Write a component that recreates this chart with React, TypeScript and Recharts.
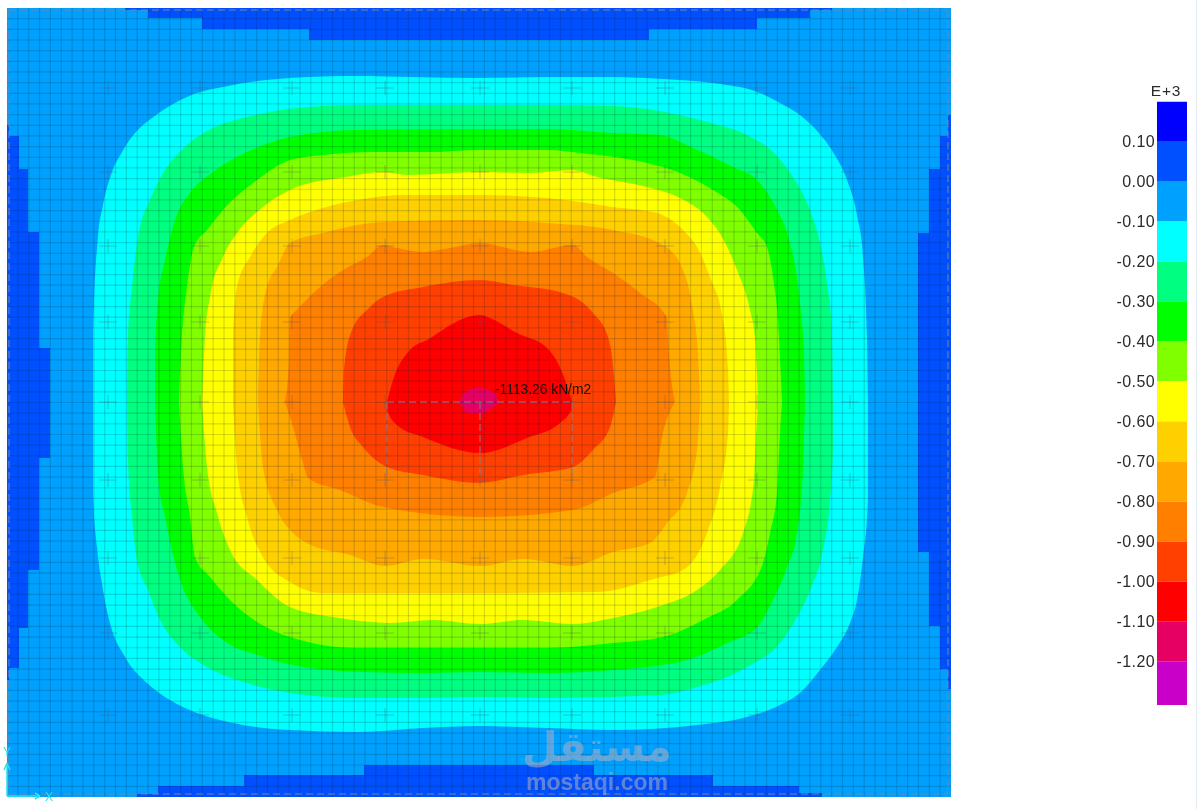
import { ComposedChart, BarChart, Area, Bar, Scatter, XAxis, YAxis, ReferenceLine, ReferenceDot } from "recharts";

type Pt = [number, number];

// contour outlines, upper and lower half of each band, split at y = 402
const MID_Y = 402;

const cyanTop: Pt[] = [[93, 402], [93, 337], [94, 303], [98, 237], [103, 205], [111, 175], [122, 152], [135, 133], [152, 118], [175, 103], [197, 93], [223, 87], [250, 82], [290, 78], [357, 76], [413, 77], [480, 78], [547, 77], [613, 77], [663, 79], [713, 83], [760, 93], [780, 103], [800, 115], [818, 132], [833, 152], [847, 180], [857, 215], [863, 257], [867, 337], [868, 402]];
const cyanBottom: Pt[] = [[93, 402], [93, 493], [97, 547], [103, 590], [110, 623], [125, 657], [147, 683], [170, 700], [197, 713], [233, 723], [290, 730], [357, 732], [423, 728], [480, 726], [547, 728], [613, 730], [697, 725], [747, 717], [780, 705], [800, 693], [820, 670], [837, 647], [850, 623], [857, 600], [863, 557], [868, 500], [868, 402]];

const springTop: Pt[] = [[127, 402], [128, 337], [132, 287], [138, 237], [150, 200], [165, 170], [187, 145], [213, 128], [247, 117], [297, 108], [357, 105], [480, 105], [547, 105], [613, 106], [653, 110], [707, 122], [747, 135], [773, 152], [793, 177], [810, 210], [820, 243], [827, 283], [832, 330], [833, 402]];
const springBottom: Pt[] = [[127, 402], [128, 460], [132, 517], [137, 560], [148, 590], [160, 620], [180, 647], [207, 667], [247, 683], [290, 693], [357, 698], [423, 698], [480, 697], [550, 698], [660, 695], [697, 687], [747, 667], [780, 643], [797, 617], [813, 583], [823, 550], [830, 500], [833, 450], [833, 402]];

const greenTop: Pt[] = [[155, 402], [155, 353], [158, 300], [165, 260], [175, 220], [190, 193], [213, 172], [247, 152], [290, 137], [357, 130], [480, 129], [547, 129], [613, 133], [660, 135], [693, 148], [733, 167], [757, 180], [777, 210], [790, 243], [800, 303], [804, 353], [805, 402]];
const greenBottom: Pt[] = [[155, 402], [158, 477], [165, 517], [178, 573], [200, 617], [223, 640], [257, 655], [303, 667], [363, 672], [423, 673], [480, 672], [547, 673], [613, 670], [687, 660], [727, 643], [757, 627], [773, 600], [787, 567], [797, 533], [803, 467], [805, 402]];

const limeTop: Pt[] = [[179, 402], [181, 353], [187, 287], [194, 247], [207, 230], [223, 210], [257, 180], [290, 160], [323, 155], [373, 152], [430, 152], [480, 150], [547, 150], [580, 153], [647, 163], [680, 173], [713, 190], [740, 210], [757, 233], [767, 247], [773, 277], [778, 320], [782, 402]];
const limeBottom: Pt[] = [[179, 402], [183, 467], [190, 517], [195, 557], [210, 577], [230, 600], [257, 622], [290, 637], [357, 648], [423, 648], [480, 648], [547, 648], [613, 643], [663, 637], [707, 618], [737, 600], [763, 563], [770, 533], [777, 493], [780, 433], [782, 402]];

const yellowTop: Pt[] = [[202, 402], [205, 337], [210, 297], [223, 257], [237, 233], [263, 207], [297, 187], [340, 178], [385, 172], [407, 175], [480, 172], [530, 173], [572, 170], [597, 177], [647, 187], [680, 198], [707, 217], [722, 237], [737, 270], [750, 310], [755, 337], [758, 402]];
const yellowBottom: Pt[] = [[202, 402], [207, 467], [217, 513], [230, 550], [257, 580], [290, 607], [340, 618], [390, 623], [433, 620], [480, 624], [523, 620], [573, 624], [613, 618], [657, 607], [697, 590], [720, 570], [743, 533], [754, 480], [755, 457], [758, 402]];

const goldTop: Pt[] = [[233, 402], [233, 337], [237, 287], [250, 257], [267, 233], [290, 220], [323, 208], [357, 200], [407, 195], [480, 195], [547, 198], [613, 207], [657, 213], [683, 230], [697, 247], [710, 277], [723, 320], [728, 370], [729, 402]];
const goldBottom: Pt[] = [[233, 402], [237, 467], [247, 517], [263, 557], [290, 582], [323, 593], [480, 593], [597, 592], [657, 578], [683, 570], [707, 533], [720, 487], [728, 433], [729, 402]];

const amberTop: Pt[] = [[258, 402], [260, 337], [267, 287], [277, 267], [290, 243], [323, 233], [383, 222], [480, 220], [547, 223], [613, 230], [663, 245], [683, 270], [693, 310], [698, 353], [700, 402]];
const amberBottom: Pt[] = [[258, 402], [263, 467], [277, 510], [293, 533], [307, 543], [350, 555], [385, 566], [423, 559], [480, 566], [523, 559], [573, 566], [613, 552], [650, 543], [667, 523], [687, 493], [697, 450], [700, 402]];

const orangeTop: Pt[] = [[285, 402], [289, 360], [290, 318], [297, 310], [320, 287], [343, 270], [367, 257], [383, 245], [397, 248], [423, 252], [450, 248], [480, 243], [530, 252], [573, 245], [587, 257], [613, 273], [640, 293], [667, 318], [668, 337], [675, 402]];
const orangeBottom: Pt[] = [[285, 402], [293, 427], [303, 463], [308, 478], [340, 490], [383, 507], [480, 517], [573, 510], [613, 493], [655, 477], [662, 437], [675, 402]];

const redOrangeTop: Pt[] = [[343, 402], [344, 370], [352, 330], [367, 310], [383, 297], [423, 287], [480, 280], [513, 285], [563, 293], [593, 313], [608, 337], [615, 387], [616, 402]];
const redOrangeBottom: Pt[] = [[343, 402], [350, 427], [363, 447], [387, 467], [423, 475], [480, 483], [523, 475], [573, 467], [593, 450], [610, 427], [616, 402]];

const redTop: Pt[] = [[387, 402], [393, 380], [410, 350], [427, 340], [468, 317], [480, 315], [490, 318], [517, 333], [547, 348], [562, 372], [572, 402]];
const redBottom: Pt[] = [[387, 402], [388, 412], [397, 425], [423, 437], [480, 453], [527, 438], [560, 423], [572, 408], [572, 402]];

const crimsonTop: Pt[] = [[459, 402], [468, 390], [478, 388], [493, 392], [499, 402]];
const crimsonBottom: Pt[] = [[459, 402], [468, 413], [480, 414], [492, 408], [499, 402]];

// dark blue uplift strips along the plate edges: x, from, to
const stripTop = [[125, 8, 10], [148, 8, 10], [148, 8, 18], [202, 8, 18], [202, 8, 29], [309, 8, 29], [309, 8, 40], [649, 8, 40], [649, 8, 29], [757, 8, 29], [757, 8, 18], [810, 8, 18], [810, 8, 10], [832, 8, 10]];
const stripBottom = [[137, 794, 797], [158, 794, 797], [158, 786, 797], [244, 786, 797], [244, 775, 797], [364, 775, 797], [364, 765, 797], [594, 765, 797], [594, 775, 797], [713, 775, 797], [713, 786, 797], [799, 786, 797], [799, 793, 797], [822, 793, 797]];
const stripLeft = [[7, 125, 680], [9, 125, 680], [9, 136, 668], [19, 136, 668], [19, 169, 628], [28, 169, 628], [28, 232, 570], [39, 232, 570], [39, 348, 458], [50, 348, 458]];
const stripRight = [[918, 233, 552], [929, 233, 552], [929, 169, 626], [940, 169, 626], [940, 136, 669], [948, 136, 669], [948, 115, 689], [951, 115, 689]];

const BANDS: { color: string; top: Pt[]; bottom: Pt[] }[] = [
  { color: "#00FFFF", top: cyanTop, bottom: cyanBottom },
  { color: "#00FF80", top: springTop, bottom: springBottom },
  { color: "#00FF00", top: greenTop, bottom: greenBottom },
  { color: "#80FF00", top: limeTop, bottom: limeBottom },
  { color: "#FFFF00", top: yellowTop, bottom: yellowBottom },
  { color: "#FFD000", top: goldTop, bottom: goldBottom },
  { color: "#FFA800", top: amberTop, bottom: amberBottom },
  { color: "#FF8000", top: orangeTop, bottom: orangeBottom },
  { color: "#FF4000", top: redOrangeTop, bottom: redOrangeBottom },
  { color: "#FF0000", top: redTop, bottom: redBottom },
  { color: "#E60064", top: crimsonTop, bottom: crimsonBottom },
];

const PLATE = [{ x: 7, band: [8, 797] }, { x: 951, band: [8, 797] }];
const COLUMN_X = [108, 200, 292, 385, 480, 572, 665, 757, 850];
const COLUMN_Y = [88, 172, 246, 322, 402, 480, 558, 633, 715];
const COLUMNS = COLUMN_X.flatMap((x) => COLUMN_Y.map((y) => ({ x, y })));

const MESH_X = Array.from({ length: 86 }, (_, i) => 7 + ((i + 1) * 944) / 87);
const MESH_Y = Array.from({ length: 73 }, (_, i) => 8 + ((i + 1) * 789) / 74);

// dashed strip lines of the slab
const STRIP_LINES = [
  [[9, 10], [948, 10]], [[9, 794], [948, 794]], [[9, 10], [9, 794]], [[948, 10], [948, 794]],
  [[387, 402], [572, 402]], [[387, 402], [387, 481]], [[480, 402], [480, 481]], [[572, 402], [572, 481]],
];
const AXIS_MARK = [
  [[7, 796], [40, 796]], [[40, 796], [35, 793]], [[40, 796], [35, 799]],
  [[7, 796], [7, 763]], [[7, 763], [4, 770]], [[7, 763], [10, 770]],
];

// colour scale, E+3
const SCALE_COLORS = ["#0000FF", "#0050FF", "#00A0FF", "#00FFFF", "#00FF80", "#00FF00", "#80FF00", "#FFFF00", "#FFD000", "#FFA800", "#FF8000", "#FF4000", "#FF0000", "#E60064", "#C800C8"];
const SCALE_STEPS = [0.098, 0.1, -0.1, -0.1, -0.1, -0.1, -0.1, -0.1, -0.1, -0.1, -0.1, -0.1, -0.1, -0.1, -0.108];
const SCALE_TICKS = [0.1, 0, -0.1, -0.2, -0.3, -0.4, -0.5, -0.6, -0.7, -0.8, -0.9, -1.0, -1.1, -1.2];
const scaleRow: Record<string, number | string> = { name: "scale" };
SCALE_STEPS.forEach((v, i) => { scaleRow["s" + i] = v; });
// positive steps stack up from zero, so the top colour has to come second
const SCALE_ORDER = [1, 0, 2, 3, 4, 5, 6, 7, 8, 9, 10, 11, 12, 13, 14];

const toRows = (pts: Pt[], side: "top" | "bottom") =>
  pts.map(([x, y]) => ({ x, band: side === "top" ? [y, MID_Y] : [MID_Y, y] }));
const toStrip = (rows: number[][]) => rows.map(([x, a, b]) => ({ x, band: [a, b] }));

const Cross = ({ cx = 0, cy = 0 }: { cx?: number; cy?: number }) => (
  <path d={`M${cx - 9} ${cy}H${cx + 9}M${cx} ${cy - 7}V${cy + 7}`} stroke="#50506e" strokeOpacity={0.32} strokeWidth={1} fill="none" />
);

const SANS = "'Liberation Sans', Arial, sans-serif";

function fillArea(key: string, data: { x: number; band: number[] }[], color: string, curve: "linear" | "monotoneX" = "linear") {
  return <Area key={key} data={data} dataKey="band" type={curve} fill={color} fillOpacity={1} stroke="none" dot={false} activeDot={false} isAnimationActive={false} />;
}

export default function App() {
  return (
    <div style={{ position: "absolute", left: 0, top: 0, width: 1196, height: 809, background: "#fff", borderRight: "1px solid #e3ebf5" }}>
      <div style={{ filter: "blur(0.4px)" }}>
        <ComposedChart width={1197} height={809} margin={{ left: 7, top: 8, right: 246, bottom: 12 }} data={PLATE}>
          <XAxis dataKey="x" type="number" domain={[7, 951]} hide />
          <YAxis dataKey="y" type="number" domain={[8, 797]} reversed hide />
          {fillArea("plate", PLATE, "#00A0FF")}
          {fillArea("stripTop", toStrip(stripTop), "#0050FF")}
          {fillArea("stripBottom", toStrip(stripBottom), "#0050FF")}
          {fillArea("stripLeft", toStrip(stripLeft), "#0050FF")}
          {fillArea("stripRight", toStrip(stripRight), "#0050FF")}
          {BANDS.flatMap((b) => [
            fillArea(b.color + "t", toRows(b.top, "top"), b.color, "monotoneX"),
            fillArea(b.color + "b", toRows(b.bottom, "bottom"), b.color, "monotoneX"),
          ])}
          {MESH_X.map((x) => (
            <ReferenceLine key={"mx" + x} x={x} stroke="rgba(0,30,40,0.17)" strokeWidth={1.2} />
          ))}
          {MESH_Y.map((y) => (
            <ReferenceLine key={"my" + y} y={y} stroke="rgba(0,30,40,0.17)" strokeWidth={1.2} />
          ))}
          <Scatter data={COLUMNS} dataKey="y" shape={<Cross />} isAnimationActive={false} />
          {STRIP_LINES.map(([a, b], i) => (
            <ReferenceLine key={"s" + i} segment={[{ x: a[0], y: a[1] }, { x: b[0], y: b[1] }]} stroke="#80809a" strokeWidth={1} strokeDasharray="7 4" ifOverflow="visible" />
          ))}
          {AXIS_MARK.map(([a, b], i) => (
            <ReferenceLine key={"a" + i} segment={[{ x: a[0], y: a[1] }, { x: b[0], y: b[1] }]} stroke="#22E6F0" strokeWidth={1.5} ifOverflow="visible" />
          ))}
          <ReferenceDot x={495} y={389} r={0} stroke="none" ifOverflow="visible" label={{ value: "-1113.26 kN/m2", position: "right", offset: 0, fill: "#111", fontSize: 13.8, fontFamily: SANS }} />
          <ReferenceDot x={49} y={797} r={0} stroke="none" ifOverflow="visible" label={{ value: "X", position: "center", fill: "#22E6F0", fontSize: 12, fontFamily: SANS }} />
          <ReferenceDot x={7} y={752} r={0} stroke="none" ifOverflow="visible" label={{ value: "Y", position: "center", fill: "#22E6F0", fontSize: 12, fontFamily: SANS }} />
          <ReferenceDot x={597} y={746} r={0} stroke="none" ifOverflow="visible" label={{ value: "مستقل", position: "center", fill: "rgba(175,175,195,0.55)", fontSize: 41, fontWeight: 700, fontFamily: "'DejaVu Sans'" }} />
          <ReferenceDot x={597} y={782} r={0} stroke="none" ifOverflow="visible" label={{ value: "mostaqi.com", position: "center", fill: "rgba(175,175,195,0.55)", fontSize: 23, fontWeight: 700, fontFamily: SANS }} />
        </ComposedChart>
      </div>
      <div style={{ position: "absolute", left: 1100, top: 70, filter: "blur(0.3px)" }}>
        <BarChart width={97} height={650} data={[scaleRow]} stackOffset="sign" barCategoryGap={0} margin={{ left: 0, top: 31.7, right: 10, bottom: 15 }}>
          <XAxis dataKey="name" hide />
          <YAxis type="number" domain={[-1.308, 0.198]} ticks={SCALE_TICKS} interval={0} width={57} axisLine={false} tickLine={false} tickSize={0} tickMargin={2} tickFormatter={(v: number) => v.toFixed(2)} tick={{ fontSize: 16, fill: "#2a2a2a", fontFamily: SANS, letterSpacing: 0.4 }} />
          {SCALE_ORDER.map((i) => (
            <Bar key={i} dataKey={"s" + i} stackId="scale" fill={SCALE_COLORS[i]} isAnimationActive={false} />
          ))}
          <text x={66} y={26} textAnchor="middle" fontSize={15.5} fill="#2a2a2a" fontFamily={SANS} letterSpacing={0.8}>E+3</text>
        </BarChart>
      </div>
    </div>
  );
}
